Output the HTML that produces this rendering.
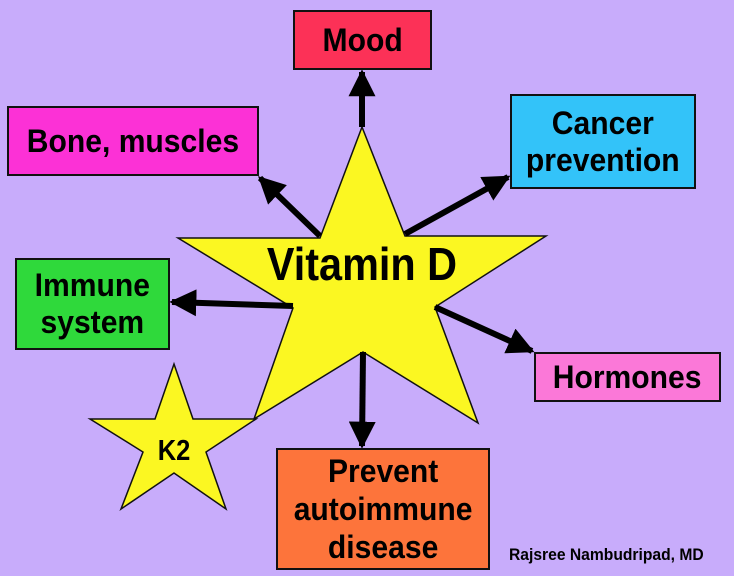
<!DOCTYPE html>
<html><head><style>
body{margin:0;width:734px;height:576px;background:#c8acfb;overflow:hidden;font-family:"Liberation Sans",Arial,sans-serif;}
.b{position:absolute;border:2px solid #111;box-sizing:border-box;display:flex;align-items:center;justify-content:center;text-align:center;font-weight:bold;font-size:32px;line-height:37px;color:#000;}
.b span{display:inline-block;transform:scaleX(0.94);white-space:nowrap;}
</style></head><body>
<svg width="734" height="576" style="position:absolute;left:0;top:0">
<defs><marker id="a" viewBox="0 0 10 10" refX="9" refY="5" markerWidth="4.5" markerHeight="4.5" orient="auto"><path d="M0,0L10,5L0,10z" fill="#000"/></marker></defs>
<polygon points="362,127 405,236 546,236 435,307 478,423 363,352 254,419 293,308 178,238 320,238" fill="#fbf722" stroke="#111" stroke-width="1.5"/>
<polygon points="174,364 193,419 256,419 206,452 226,509 174,473 121,509 143,452 90,419 155,419" fill="#fbf722" stroke="#111" stroke-width="1.5"/>
<g stroke="#000" stroke-width="6" marker-end="url(#a)">
<line x1="362" y1="127" x2="362" y2="72"/>
<line x1="320" y1="236" x2="260" y2="178"/>
<line x1="405" y1="234" x2="508" y2="177"/>
<line x1="293" y1="306" x2="172" y2="302"/>
<line x1="435" y1="307" x2="532" y2="351"/>
<line x1="363" y1="352" x2="362" y2="446"/>
</g>
<text x="362" y="280" text-anchor="middle" font-family="Liberation Sans,Arial,sans-serif" font-weight="bold" font-size="46" transform="translate(362 0) scale(0.9 1) translate(-362 0)">Vitamin D</text>
<text x="174" y="460" text-anchor="middle" font-family="Liberation Sans,Arial,sans-serif" font-weight="bold" font-size="29" transform="translate(174 0) scale(0.88 1) translate(-174 0)">K2</text>
</svg>
<div class="b" style="left:293px;top:10px;width:139px;height:60px;background:#fc3157"><span>Mood</span></div>
<div class="b" style="left:7px;top:106px;width:252px;height:70px;background:#fc31d6"><span>Bone, muscles</span></div>
<div class="b" style="left:510px;top:94px;width:186px;height:95px;background:#33c3f9"><span>Cancer<br>prevention</span></div>
<div class="b" style="left:15px;top:258px;width:155px;height:92px;background:#2fd93b"><span>Immune<br>system</span></div>
<div class="b" style="left:534px;top:352px;width:187px;height:50px;background:#fb78d8"><span>Hormones</span></div>
<div class="b" style="left:276px;top:448px;width:214px;height:122px;background:#fd743b;line-height:38px"><span>Prevent<br>autoimmune<br>disease</span></div>
<div style="position:absolute;left:509px;top:545px;font-weight:bold;font-size:17px;color:#000;transform:scaleX(0.92);transform-origin:left top;white-space:nowrap">Rajsree Nambudripad, MD</div>
</body></html>
